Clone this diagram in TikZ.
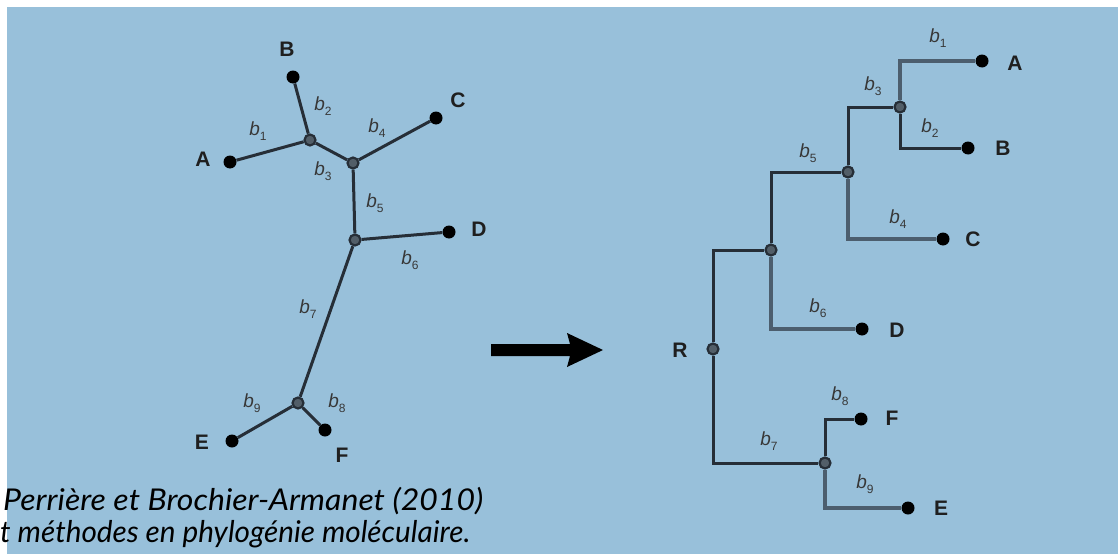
\documentclass[tikz,border=0pt]{standalone}
\usepackage{fontspec}
\usepackage{graphicx}
\setmainfont{Liberation Sans}
\newfontfamily\capfont{Lato}
\definecolor{bgblue}{RGB}{152,192,218}
\definecolor{edgedark}{RGB}{38,46,55}
\definecolor{edgelight}{RGB}{76,94,110}
\definecolor{innerfill}{RGB}{82,94,104}
\newcommand{\bl}[1]{{\fontsize{19}{19}\selectfont\itshape b}\raisebox{-4.5pt}{\fontsize{12}{12}\selectfont #1}}
\tikzset{
  tip/.style={circle, fill=black, inner sep=0pt, minimum size=13pt},
  inode/.style={circle, draw=edgedark, fill=innerfill, line width=2.2pt, inner sep=0pt, minimum size=11pt},
  lab/.style={font=\fontsize{21}{21}\selectfont\bfseries, inner sep=0pt, text=black!88},
  blab/.style={inner sep=0pt, text=black!78},
  edge/.style={draw=edgedark, line width=3pt},
  edgel/.style={draw=edgelight, line width=3.5pt},
  captxt/.style={font=\capfont\itshape\fontsize{30}{32}\selectfont, anchor=base west, inner sep=0pt}
}
\begin{document}
\begin{tikzpicture}[x=1pt,y=-1pt]
\useasboundingbox (0,0) rectangle (1120,554);
\fill[white] (0,0) rectangle (1120,554);
\fill[bgblue] (7,7) rectangle (1118,554);

% ---------- left (unrooted) tree ----------
\node[inode] (n1) at (310,140) {};
\node[inode] (n2) at (353,163) {};
\node[inode] (n3) at (355,240) {};
\node[inode] (n4) at (298,403) {};
\node[tip] (lA) at (230,162) {};
\node[tip] (lB) at (293,77) {};
\node[tip] (lC) at (436,118) {};
\node[tip] (lD) at (449,232) {};
\node[tip] (lE) at (232,441) {};
\node[tip] (lF) at (325,430) {};
\draw[edge] (n1) -- (lA);
\draw[edge] (n1) -- (lB);
\draw[edge] (n1) -- (n2);
\draw[edge] (n2) -- (lC);
\draw[edge] (n2) -- (n3);
\draw[edge] (n3) -- (lD);
\draw[edge] (n3) -- (n4);
\draw[edge] (n4) -- (lE);
\draw[edge] (n4) -- (lF);
\node[lab] (tA) at (203,159) {A};
\node[lab] (tB) at (287,49) {B};
\node[lab] (tC) at (458,100) {C};
\node[lab] (tD) at (479,229) {D};
\node[lab] (tE) at (202,442) {E};
\node[lab] (tF) at (342,455) {F};
\node[blab] (lb1) at (258,131) {\bl{1}};
\node[blab] (lb2) at (323,106) {\bl{2}};
\node[blab] (lb3) at (323,171) {\bl{3}};
\node[blab] (lb4) at (377,128) {\bl{4}};
\node[blab] (lb5) at (375,203) {\bl{5}};
\node[blab] (lb6) at (410,260) {\bl{6}};
\node[blab] (lb7) at (308,309) {\bl{7}};
\node[blab] (lb9) at (252,403) {\bl{9}};
\node[blab] (lb8) at (337,403) {\bl{8}};

% ---------- arrow ----------
\fill[black] (491,344) -- (570,344) -- (567,333) -- (603,350) -- (567,367) -- (570,356) -- (491,356) -- cycle;

% ---------- right (rooted) tree ----------
\node[inode] (AB) at (900,107) {};
\node[inode] (ABC) at (848,172) {};
\node[inode] (ABCD) at (771,250) {};
\node[inode] (R) at (713,349) {};
\node[inode] (EF) at (825,463) {};
\node[tip] (rA) at (982,61) {};
\node[tip] (rB) at (968,148) {};
\node[tip] (rC) at (943,239) {};
\node[tip] (rD) at (862,329) {};
\node[tip] (rF) at (861,419) {};
\node[tip] (rE) at (908,508) {};
\draw[edgel] (AB) |- (rA);
\draw[edge] (AB) |- (rB);
\draw[edge] (ABC) |- (AB);
\draw[edgel] (ABC) |- (rC);
\draw[edge] (ABCD) |- (ABC);
\draw[edgel] (ABCD) |- (rD);
\draw[edge] (R) |- (ABCD);
\draw[edge] (R) |- (EF);
\draw[edge] (EF) |- (rF);
\draw[edgel] (EF) |- (rE);
\node[lab] (rtA) at (1015,63) {A};
\node[lab] (rtB) at (1003,148) {B};
\node[lab] (rtC) at (973,239) {C};
\node[lab] (rtD) at (897,330) {D};
\node[lab] (rtF) at (892,418) {F};
\node[lab] (rtE) at (941,508) {E};
\node[lab] (rtR) at (680,350) {R};
\node[blab] (rb1) at (938,38) {\bl{1}};
\node[blab] (rb3) at (873,86) {\bl{3}};
\node[blab] (rb2) at (930,128) {\bl{2}};
\node[blab] (rb5) at (808,153) {\bl{5}};
\node[blab] (rb4) at (898,219) {\bl{4}};
\node[blab] (rb6) at (818,308) {\bl{6}};
\node[blab] (rb8) at (840,396) {\bl{8}};
\node[blab] (rb7) at (769,441) {\bl{7}};
\node[blab] (rb9) at (865,484) {\bl{9}};

% ---------- caption ----------
\node[captxt] (cap1) at (3,510) {\resizebox{480pt}{\height}{Perrière et Brochier-Armanet (2010)}};
\node[captxt] (cap2) at (0,542) {\resizebox{470pt}{\height}{t méthodes en phylogénie moléculaire.}};
\end{tikzpicture}
\end{document}
